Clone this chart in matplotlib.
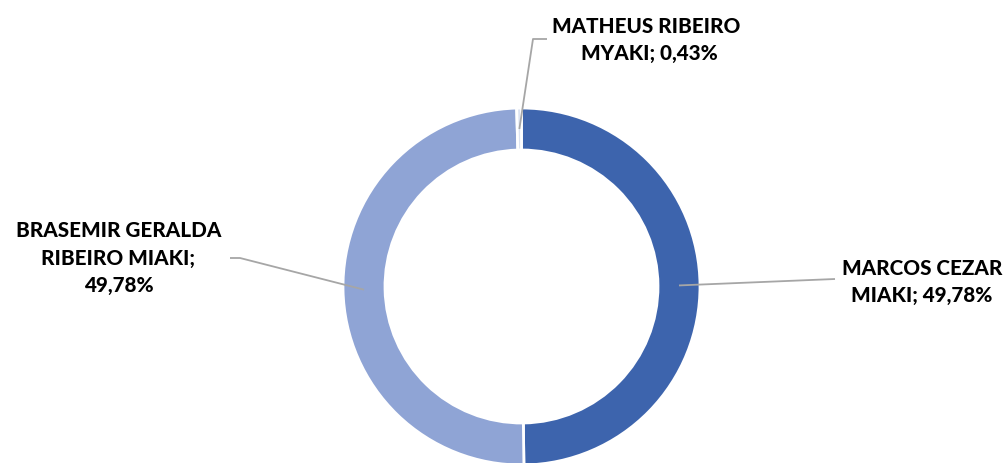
import matplotlib
matplotlib.use("Agg")
import matplotlib.pyplot as plt
import numpy as np

names = ["MARCOS CEZAR\nMIAKI", "BRASEMIR GERALDA\nRIBEIRO MIAKI;\n", "MATHEUS RIBEIRO \nMYAKI"]
shares = [49.78, 49.78, 0.43]
pct_labels = ["49,78%", "49,78%", "0,43%"]
colors = ["#3D64AD", "#8FA4D5", "#DCE3F1"]

W, H = 1004, 463
fig = plt.figure(figsize=(W / 100, H / 100), dpi=100)
ax = fig.add_axes([0, 0, 1, 1])
ax.set_xlim(0, W)
ax.set_ylim(0, H)
ax.set_aspect("equal")
ax.axis("off")

cx, cy = 521.5, H - 286.5
R = 178.5
ring = 42
wedges, _ = ax.pie(shares, colors=colors, startangle=90, counterclock=False,
                   radius=R, center=(cx, cy),
                   wedgeprops=dict(width=ring, edgecolor="white", linewidth=2))
ax.set_xlim(0, W)
ax.set_ylim(0, H)

# label text positions (pixel centres) and leader elbows
label_pos = [(922, H - 282), (118.5, H - 258), (649, H - 40)]
elbows = [None, (240, H - 258, 230), (533, H - 39, 547)]
line_end = [(835, H - 279), None, None]

rmid = R - ring / 2
font = dict(family="Lato", fontweight="black", fontsize=14.9, color="#000000")
for i, w in enumerate(wedges):
    ang = np.deg2rad((w.theta1 + w.theta2) / 2)
    ax_, ay_ = cx + rmid * np.cos(ang), cy + rmid * np.sin(ang)
    if elbows[i] is not None:
        ex, ey, hx = elbows[i]
        xs, ys = [ax_, ex, hx], [ay_, ey, ey]
    else:
        xs, ys = [ax_, line_end[i][0]], [ay_, line_end[i][1]]
    ax.plot(xs, ys, color="#A6A6A6", lw=1.3, solid_capstyle="butt")
    if i == 1:
        txt = names[i] + pct_labels[i]
    else:
        txt = names[i] + "; " + pct_labels[i]
    ax.text(label_pos[i][0], label_pos[i][1], txt, ha="center", va="center",
            multialignment="center", linespacing=1.5, **font)

fig.savefig("out.png", dpi=100)
